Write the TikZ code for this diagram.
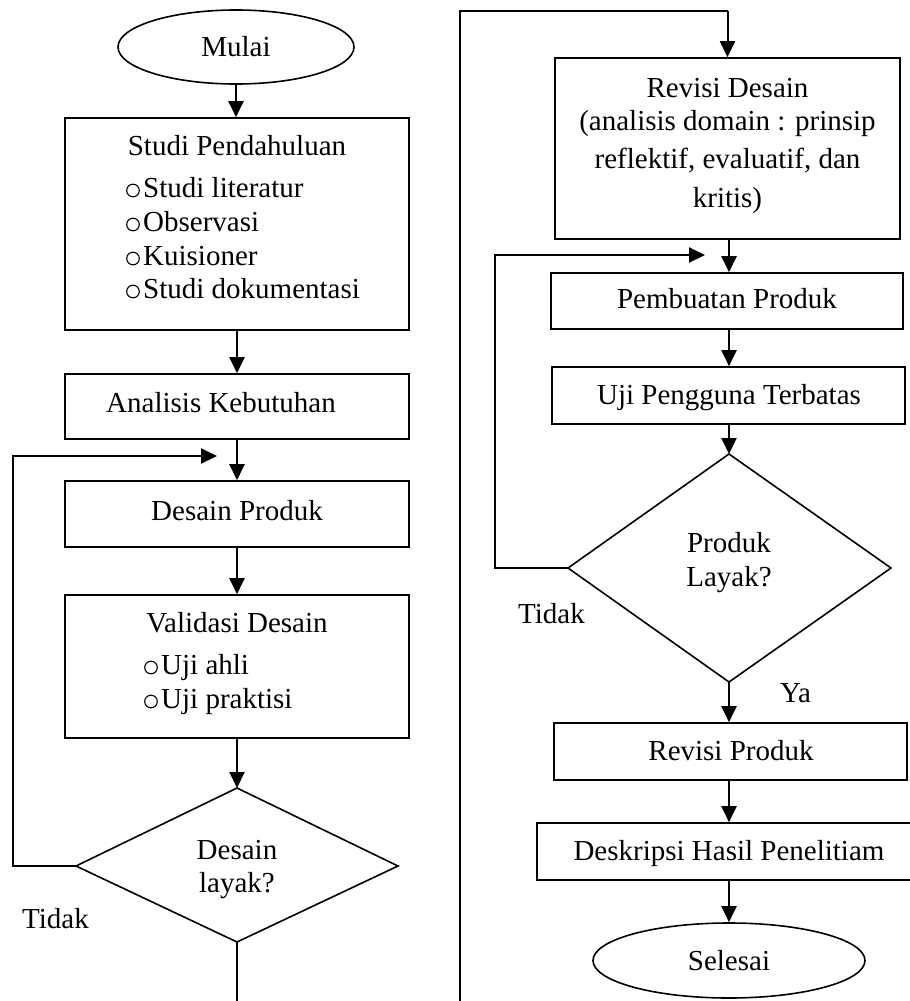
\documentclass[tikz,border=0pt]{standalone}
\usepackage{fontspec}
\setmainfont{Liberation Serif}
\usetikzlibrary{arrows.meta,shapes.geometric}
\tikzset{
  boxshape/.style={draw, line width=1.6pt, inner sep=0pt, rectangle},
  ovalshape/.style={draw, line width=1.6pt, inner sep=0pt, ellipse, font=\fontsize{29}{34}\selectfont},
  dshape/.style={draw, line width=1.6pt, line join=miter},
  txt/.style={inner sep=0pt, anchor=base, font=\fontsize{29}{34}\selectfont},
  txtl/.style={inner sep=0pt, anchor=base west, font=\fontsize{29}{34}\selectfont},
  bulletmark/.style={draw, line width=1.1pt},
  conn/.style={line width=2pt},
  arr/.style={line width=2pt, -{Triangle[length=16pt,width=15pt]}}
}
\begin{document}
\begin{tikzpicture}[x=1pt,y=-1pt]
\useasboundingbox (0,0) rectangle (910,1001);
\fill[white] (0,0) rectangle (910,1001);

% ---------- left column ----------
\node[ovalshape, minimum width=236, minimum height=74] (mulai) at (236,47) {Mulai};

\node[boxshape, minimum width=344, minimum height=212] (studi) at (237,224) {};
\node[txt] (studiT) at (237,155) {Studi Pendahuluan};
\node[txtl] (s1) at (143,197) {Studi literatur};
\node[txtl] (s2) at (143,231) {Observasi};
\node[txtl] (s3) at (143,265) {Kuisioner};
\node[txtl] (s4) at (143,298) {Studi dokumentasi};
\foreach \yy in {197,231,265,298} \draw[bulletmark] (133,\yy-6.5) circle[radius=6.3];

\node[boxshape, minimum width=344, minimum height=65] (analisis) at (237,406.5) {};
\node[txt] (analisisT) at (221,412) {Analisis Kebutuhan};

\node[boxshape, minimum width=344, minimum height=66] (desain) at (237,514) {};
\node[txt] (desainT) at (237,520) {Desain Produk};

\node[boxshape, minimum width=344, minimum height=143] (validasi) at (237,666.5) {};
\node[txt] (validasiT) at (237,632) {Validasi Desain};
\node[txtl] (v1) at (161,674) {Uji ahli};
\node[txtl] (v2) at (161,708) {Uji praktisi};
\foreach \yy in {674,708} \draw[bulletmark] (151,\yy-6.5) circle[radius=6.3];

\coordinate (d1t) at (237,788);
\coordinate (d1r) at (398,866);
\coordinate (d1b) at (237,942);
\coordinate (d1l) at (76,866);
\draw[dshape] (d1t) -- (d1r) -- (d1b) -- (d1l) -- cycle;
\node[txt] (d1a) at (237,859) {Desain};
\node[txt] (d1c) at (237,892) {layak?};
\node[txtl] (tidak1) at (22,928) {Tidak};

\coordinate (fb1) at (217,456);
\coordinate (fb1c) at (13,866);
\coordinate (bot1) at (237,1001);

\draw[arr] (mulai.south) -- (mulai.south |- studi.north);
\draw[arr] (studi.south) -- (analisis.north);
\draw[arr] (analisis.south) -- (desain.north);
\draw[arr] (desain.south) -- (validasi.north);
\draw[arr] (validasi.south) -- (d1t);
\draw[arr] (d1l) -- (fb1c) |- (fb1);
\draw[conn] (d1b) -- (bot1);

% ---------- right column ----------
\coordinate (bot2) at (460,1001);
\coordinate (top2) at (727.5,11);

\node[boxshape, minimum width=345, minimum height=181] (revd) at (727.5,148.5) {};
\node[txt] (r1) at (727.5,97) {Revisi Desain};
\node[txt] (r2) at (727.5,130) {(analisis domain : prinsip};
\node[txt] (r3) at (727.5,168) {reflektif, evaluatif, dan};
\node[txt] (r4) at (727.5,207) {kritis)};

\draw[conn, line join=miter] (bot2) |- (top2);
\draw[arr] (top2) -- (revd.north);

\node[boxshape, minimum width=352, minimum height=56] (pemb) at (727,301) {};
\node[txt] (pembT) at (727,308) {Pembuatan Produk};

\node[boxshape, minimum width=353, minimum height=57] (uji) at (728.5,395.5) {};
\node[txt] (ujiT) at (729,404) {Uji Pengguna Terbatas};

\coordinate (d2t) at (729,454);
\coordinate (d2r) at (891,568);
\coordinate (d2b) at (729,682);
\coordinate (d2l) at (568,568);
\draw[dshape] (d2t) -- (d2r) -- (d2b) -- (d2l) -- cycle;
\node[txt] (d2a) at (729,552) {Produk};
\node[txt] (d2c) at (729,586) {Layak?};
\node[txtl] (tidak2) at (518,623) {Tidak};
\node[txtl] (ya) at (780,702) {Ya};

\node[boxshape, minimum width=353, minimum height=57] (revp) at (730.5,751.5) {};
\node[txt] (revpT) at (731,760) {Revisi Produk};

\node[boxshape, minimum width=375, minimum height=57] (desk) at (724.5,851.5) {};
\node[txt] (deskT) at (729,860) {Deskripsi Hasil Penelitiam};

\node[ovalshape, minimum width=272, minimum height=75] (selesai) at (729,960.5) {Selesai};

\coordinate (fb2) at (705,255);
\coordinate (fb2c) at (495,568);

\draw[arr] (revd.south -| 729,0) -- (729,0 |- pemb.north);
\draw[arr] (pemb.south -| 729,0) -- (729,0 |- uji.north);
\draw[arr] (uji.south -| d2t) -- (d2t);
\draw[arr] (d2l) -- (fb2c) |- (fb2);
\draw[arr] (d2b) -- (d2b |- revp.north);
\draw[arr] (revp.south -| d2b) -- (d2b |- desk.north);
\draw[arr] (desk.south -| d2b) -- (d2b |- selesai.north);
\end{tikzpicture}
\end{document}
